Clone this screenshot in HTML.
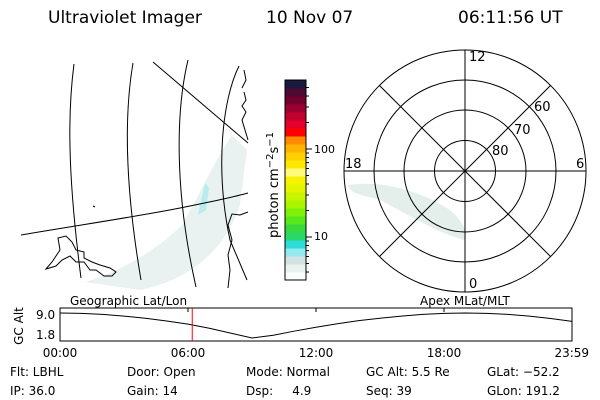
<!DOCTYPE html>
<html><head><meta charset="utf-8"><style>
body{margin:0;background:#fff;}
svg{display:block;font-family:"DejaVu Sans","Liberation Sans",sans-serif;}
</style></head><body>
<svg width="600" height="400" viewBox="0 0 600 400">
<rect width="600" height="400" fill="#fff"/>
<g font-size="17" fill="#000">
<text x="48" y="23">Ultraviolet Imager</text>
<text x="266" y="23">10 Nov 07</text>
<text x="458" y="23">06:11:56 UT</text>
</g>

<!-- Geographic map -->
<g fill="none" stroke="#000" stroke-width="1">
<path d="M232,135 C215,160 198,198 182,225 C152,255 112,274 85,282 L140,290 C190,280 225,250 240,205 L247,150 Z" fill="#e9f2f0" stroke="none"/>
<path d="M205,183 L200,205 L198,215 L206,210 L209,188 Z" fill="#b8ecf0" stroke="none"/>
<path d="M74,64 C68,110 67,170 81,278"/>
<path d="M133,63 C125,110 124,180 141,280"/>
<path d="M188,60 C176,110 174,190 196,287"/>
<path d="M239,66 C222,100 215,170 230,240 L247,280"/>
<path d="M21,235 C80,225 140,216 180,208 C210,202 230,198 248,193"/>
<path d="M153,62 L248,143"/>
<path d="M46,269 L52,262 L60,250 L58,238 L66,236 L72,242 L76,250 L84,252 L84,258 L92,262 L100,265 L110,268 L116,272 L112,276 L104,276 L96,270 L90,270 L84,262 L76,262 L70,256 L62,260 L56,266 Z"/>
<path d="M244,92 L246,100 L242,106 L246,112 L242,120 L245,130 L248,140 M244,70 L246,80 L242,88"/>
<path d="M248,212 L240,215 L232,214 L228,225 L232,240 L228,255 L230,270 L228,288 M93,206 L95,207"/>
</g>

<!-- Colorbar -->
<g id="cbar"></g>
<text transform="translate(278,185) rotate(-90)" text-anchor="middle" font-size="13">photon cm<tspan dy="-5" font-size="10">−2</tspan><tspan dy="5">s</tspan><tspan dy="-5" font-size="10">−1</tspan></text>
<text x="314" y="153" font-size="11">100</text>
<text x="314" y="240" font-size="11">10</text>

<!-- Polar plot -->
<g fill="none" stroke="#000">
<path d="M348,185 C380,180 420,190 450,210 C462,220 468,232 465,240 C440,235 400,210 380,200 C365,195 350,195 348,185 Z" fill="#e4efec" stroke="none"/>
<circle cx="465" cy="171" r="121"/>
<circle cx="465" cy="171" r="91"/>
<circle cx="465" cy="171" r="61"/>
<circle cx="465" cy="171" r="30.5"/>
<line x1="344" y1="171" x2="586" y2="171"/>
<line x1="465" y1="50" x2="465" y2="292"/>
<line x1="379.4" y1="85.4" x2="550.6" y2="256.6"/>
<line x1="550.6" y1="85.4" x2="379.4" y2="256.6"/>
</g>
<g font-size="13" fill="#000">
<text x="469" y="61">12</text>
<text x="345" y="168">18</text>
<text x="576" y="168">6</text>
<text x="469" y="288">0</text>
<text x="534" y="111">60</text>
<text x="514" y="134">70</text>
<text x="492" y="155">80</text>
</g>

<!-- Timeline -->
<text x="70" y="305" font-size="12">Geographic Lat/Lon</text>
<text x="420" y="305" font-size="12">Apex MLat/MLT</text>
<text transform="translate(23,326) rotate(-90)" text-anchor="middle" font-size="12">GC Alt</text>
<text x="36" y="319" font-size="12">9.0</text>
<text x="36" y="339" font-size="12">1.8</text>
<rect x="60" y="308" width="512" height="33" fill="none" stroke="#000"/>
<g id="tl"></g>
<g font-size="12" text-anchor="middle" id="xt"></g>

<g font-size="12">
<text x="10" y="376">Flt: LBHL</text>
<text x="10" y="395">IP: 36.0</text>
<text x="127" y="376">Door: Open</text>
<text x="127" y="395">Gain: 14</text>
<text x="246" y="376">Mode: Normal</text>
<text x="246" y="395" xml:space="preserve">Dsp:     4.9</text>
<text x="366" y="376">GC Alt: 5.5 Re</text>
<text x="366" y="395">Seq: 39</text>
<text x="487" y="376">GLat: −52.2</text>
<text x="487" y="395">GLon: 191.2</text>
</g>
</svg>
<script>
const cbColors=["#fbfdfc","#e8f3ef","#d3e3e2","#92eaf0","#2ddcd8","#2ad769","#39d83e","#55e81a","#7ff00a","#a9f500","#c8f500","#e3f500","#f7f300","#fefa7a","#fee800","#ffd000","#ffb300","#ff8c00","#ff0000","#e4002a","#c0002e","#9c0030","#72002e","#4c0a33","#1a1a40"];
const hours=[0,1,2,3,4,5,6,7,8,9,10,11,12,13,14,15,16,17,18,19,20,21,22,23,24];
const altVals=[9.0,8.9,8.6,8.1,7.5,6.7,5.8,4.6,3.2,1.8,2.6,3.8,4.9,5.9,6.8,7.5,8.1,8.6,8.9,9.0,8.9,8.6,8.1,7.4,6.6];
const tickLabels=["00:00","06:00","12:00","18:00","23:59"];
const tickHours=[0,6,12,18,23.99];
const currentHour=6+11/60+56/3600;
const NS="http://www.w3.org/2000/svg";
const cb=document.getElementById('cbar');
const cbTop=80,cbBot=280,cbX=285,cbW=21;
const segH=(cbBot-cbTop)/cbColors.length;
cbColors.forEach((c,i)=>{const r=document.createElementNS(NS,'rect');
r.setAttribute('x',cbX);r.setAttribute('y',cbBot-(i+1)*segH);r.setAttribute('width',cbW);r.setAttribute('height',segH+0.5);r.setAttribute('fill',c);


cb.appendChild(r);});
const fr=document.createElementNS(NS,'rect');fr.setAttribute('x',cbX);fr.setAttribute('y',cbTop);fr.setAttribute('width',cbW);fr.setAttribute('height',cbBot-cbTop);fr.setAttribute('fill','none');fr.setAttribute('stroke','#000');


cb.appendChild(fr);
const cy=v=>237-(Math.log10(v)-1)*88;
[3,4,5,6,7,8,9,10,20,30,40,50,60,70,80,90,100,200,300,400,500].forEach(v=>{const y=cy(v);if(y<cbTop||y>cbBot)return;
const l=document.createElementNS(NS,'line');l.setAttribute('x1',cbX+cbW);l.setAttribute('x2',cbX+cbW+((v==10||v==100)?6:3));l.setAttribute('y1',y);l.setAttribute('y2',y);l.setAttribute('stroke','#000');


cb.appendChild(l);});
const xs=h=>60+h/24*512;
const ys=a=>313+(9.0-a)/(9.0-1.8)*25;
const tl=document.getElementById('tl');
const p=document.createElementNS(NS,'polyline');
p.setAttribute('points',hours.map((h,i)=>xs(h)+','+ys(altVals[i])).join(' '));
p.setAttribute('fill','none');p.setAttribute('stroke','#000');


tl.appendChild(p);
const rl=document.createElementNS(NS,'line');rl.setAttribute('x1',xs(currentHour));rl.setAttribute('x2',xs(currentHour));rl.setAttribute('y1',308);rl.setAttribute('y2',341);rl.setAttribute('stroke','#f00');


tl.appendChild(rl);
const xt=document.getElementById('xt');
tickLabels.forEach((t,i)=>{const e=document.createElementNS(NS,'text');e.setAttribute('x',xs(tickHours[i]));e.setAttribute('y',357);e.textContent=t;


xt.appendChild(e);
if(i>0&&i<4){const l=document.createElementNS(NS,'line');l.setAttribute('x1',xs(tickHours[i]));l.setAttribute('x2',xs(tickHours[i]));l.setAttribute('y1',308);l.setAttribute('y2',312);l.setAttribute('stroke','#000');


tl.appendChild(l);}});
</script>
</body></html>
